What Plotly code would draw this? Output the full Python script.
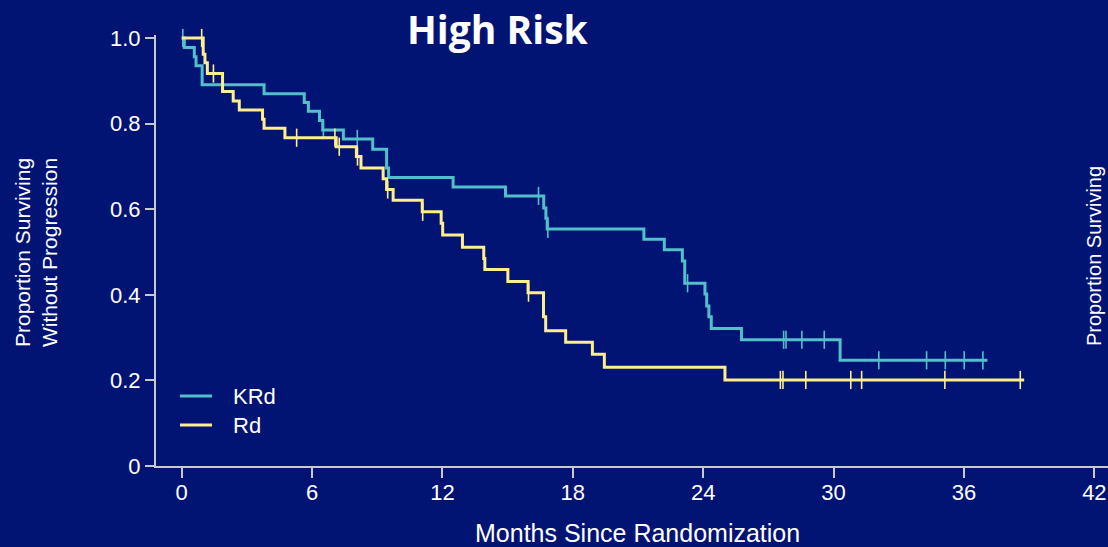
import numpy as np
import plotly.graph_objects as go

# ---- data ----
krd_time = [0.0, 0.12, 0.58, 0.66, 0.94, 3.79, 5.64, 5.83, 6.34, 6.49, 7.44, 8.79,
            9.43, 9.52, 12.49, 14.90, 16.66, 16.76, 16.82, 21.27, 22.21, 23.04, 23.15,
            24.08, 24.16, 24.26, 24.37, 25.76, 30.30, 37.08]
krd_surv = [1.0, 0.978, 0.956, 0.935, 0.891, 0.870, 0.849, 0.829, 0.807, 0.785, 0.764, 0.740,
            0.696, 0.674, 0.652, 0.631, 0.603, 0.579, 0.554, 0.530, 0.505, 0.479, 0.427,
            0.402, 0.374, 0.349, 0.321, 0.295, 0.247, 0.247]
krd_censor = [0.05, 6.52, 8.08, 16.42, 16.85, 23.28, 27.70, 27.81, 28.54, 29.57,
              32.08, 34.28, 35.14, 36.01, 36.87]

rd_time = [0.0, 0.99, 1.07, 1.18, 1.88, 2.37, 2.65, 3.72, 3.79, 4.75, 7.11, 8.04, 8.25,
           9.27, 9.43, 9.73, 11.07, 11.94, 12.01, 12.92, 13.90, 13.95, 15.01, 15.94,
           16.65, 16.75, 17.67, 18.90, 19.45, 25.00, 38.77]
rd_surv = [1.0, 0.962, 0.942, 0.917, 0.875, 0.853, 0.832, 0.810, 0.789, 0.767, 0.746, 0.723, 0.696,
           0.671, 0.646, 0.621, 0.594, 0.567, 0.540, 0.511, 0.485, 0.459, 0.431, 0.405,
           0.349, 0.316, 0.289, 0.261, 0.231, 0.201, 0.201]
rd_censor = [0.92, 1.46, 5.29, 7.05, 7.25, 8.09, 9.48, 11.09, 15.96, 27.55, 27.67, 28.72,
             30.79, 31.29, 35.12, 38.59]

series_names = ["KRd", "Rd"]
x_ticks = [0, 6, 12, 18, 24, 30, 36, 42]
y_ticks = [0, 0.2, 0.4, 0.6, 0.8, 1.0]
y_ticktext = ["0", "0.2", "0.4", "0.6", "0.8", "1.0"]

BG = "rgb(1,19,115)"
TEAL = "rgb(82,192,202)"
YELLOW = "rgb(255,238,140)"
AXIS = "rgb(200,200,205)"
SANS = "Liberation Sans, Arial, sans-serif"

FW, FH = 1108, 547
L, R, T, B = 156, 0, 35, 81
W, H = FW - L - R, FH - T - B
PX_PER_MONTH = 21.73
X0 = -(181.7 - L) / PX_PER_MONTH
X1 = X0 + W / PX_PER_MONTH


def px_x(px):
    return (px - L) / W


def px_y(py):
    return 1 - (py - T) / H


def step_value(times, survs, t):
    idx = np.searchsorted(np.array(times), t, side="right") - 1
    return survs[idx]


fig = go.Figure()
colors = [TEAL, YELLOW]
for name, times, survs, cens, col in [
    (series_names[0], krd_time, krd_surv, krd_censor, TEAL),
    (series_names[1], rd_time, rd_surv, rd_censor, YELLOW),
]:
    fig.add_trace(go.Scatter(
        x=times, y=survs, mode="lines", name=name, showlegend=False,
        line=dict(color=col, width=3, shape="hv"),
    ))
    fig.add_trace(go.Scatter(
        x=cens, y=[step_value(times, survs, c) for c in cens],
        mode="markers", showlegend=False, cliponaxis=False,
        marker=dict(symbol="line-ns", size=13, line=dict(color=col, width=1.6)),
    ))

# legend (drawn as line samples + labels)
shapes = []
annotations = []
for i, (name, col) in enumerate(zip(series_names, colors)):
    yy = 396 + 29 * i
    shapes.append(dict(type="line", xref="paper", yref="paper",
                       x0=px_x(180), x1=px_x(212), y0=px_y(yy), y1=px_y(yy),
                       line=dict(color=col, width=3)))
    annotations.append(dict(text=name, xref="paper", yref="paper",
                            x=px_x(231), y=px_y(yy), xanchor="left", yanchor="middle",
                            showarrow=False, font=dict(family=SANS, size=22, color="white")))

annotations += [
    dict(text="<b>High Risk</b>", xref="paper", yref="paper", x=px_x(498), y=px_y(28),
         xanchor="center", yanchor="middle", showarrow=False,
         font=dict(family="Open Sans, Lato, sans-serif", size=39, color="white")),
    dict(text="Months Since Randomization", xref="paper", yref="paper",
         x=px_x(637), y=px_y(533), xanchor="center", yanchor="middle", showarrow=False,
         font=dict(family=SANS, size=25, color="white")),
    dict(text="Proportion Surviving<br>Without Progression", xref="paper", yref="paper",
         x=px_x(36), y=px_y(253), xanchor="center", yanchor="middle", showarrow=False,
         textangle=-90, font=dict(family=SANS, size=21, color="white")),
    dict(text="Proportion Surviving", xref="paper", yref="paper",
         x=px_x(1094), y=px_y(256), xanchor="center", yanchor="middle", showarrow=False,
         textangle=-90, font=dict(family=SANS, size=20, color="white")),
]

fig.update_layout(
    width=FW, height=FH,
    paper_bgcolor=BG, plot_bgcolor=BG,
    margin=dict(l=L, r=R, t=T, b=B),
    showlegend=False,
    xaxis=dict(
        range=[X0, X1], tickvals=x_ticks, ticktext=[str(v) for v in x_ticks],
        showline=True, linecolor=AXIS, linewidth=2,
        ticks="outside", ticklen=10, tickwidth=2, tickcolor=AXIS,
        showgrid=False, zeroline=False, automargin=False,
        ticklabeloverflow="allow", ticklabelstandoff=-4,
        tickfont=dict(family=SANS, size=22, color="white"),
    ),
    yaxis=dict(
        range=[0, 1.007], tickvals=y_ticks, ticktext=y_ticktext,
        showline=True, linecolor=AXIS, linewidth=2,
        ticks="outside", ticklen=9, tickwidth=2, tickcolor=AXIS,
        showgrid=False, zeroline=False, automargin=False,
        tickfont=dict(family=SANS, size=22, color="white"),
    ),
    shapes=shapes,
    annotations=annotations,
)

fig.write_html("out.html", config={"displayModeBar": False},
               post_script="document.body.style.margin='0';document.body.style.background='" + BG + "';")
